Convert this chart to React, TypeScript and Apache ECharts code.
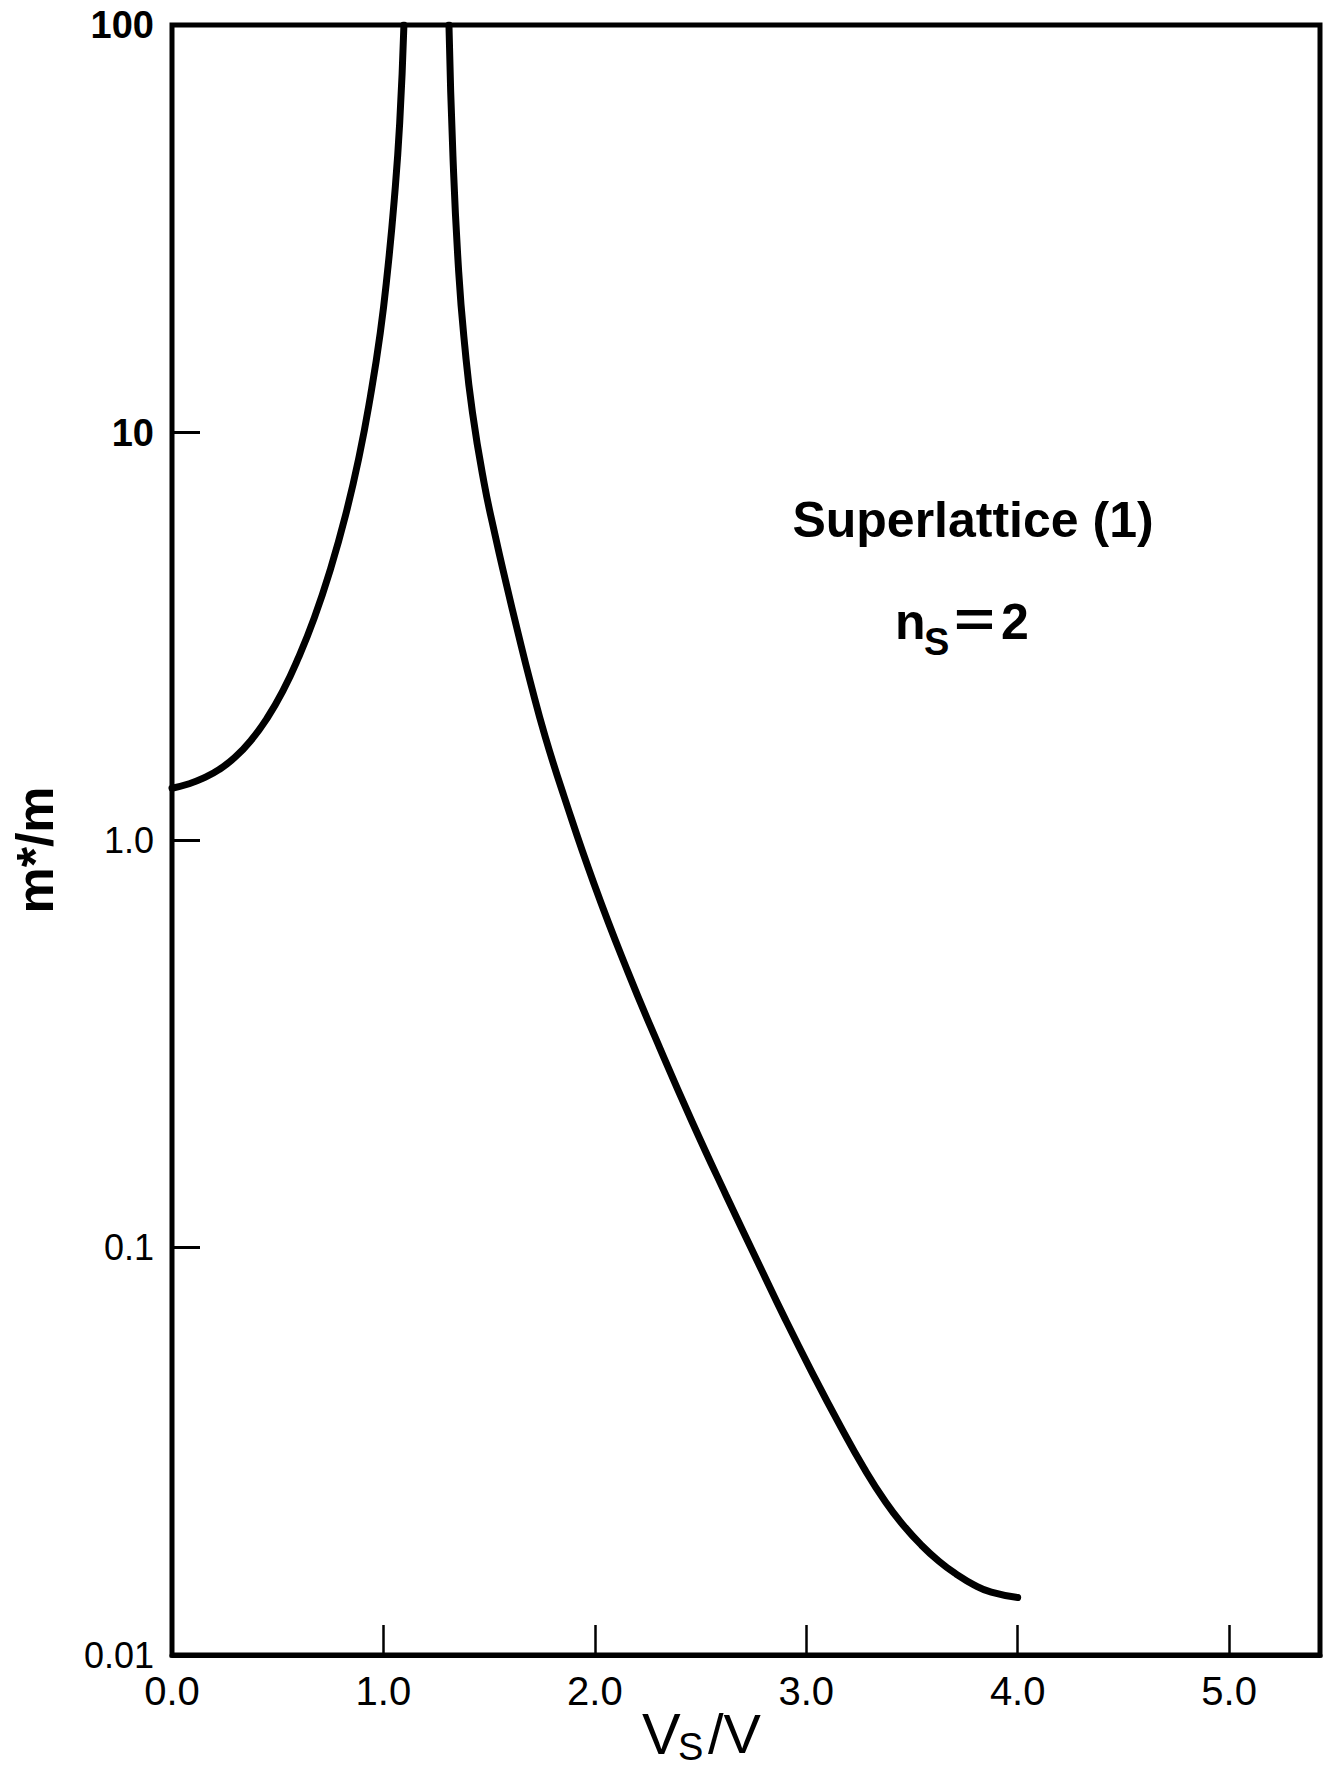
import React, { useEffect, useRef } from "react";
import * as echarts from "echarts";

// Left branch (rises from ~1.34 at V_S/V = 0 and diverges near V_S/V ≈ 1.1)
const leftX = [0.0, 0.073, 0.148, 0.224, 0.299, 0.374, 0.449, 0.524, 0.598, 0.673, 0.747, 0.821, 0.885, 0.939, 0.985, 1.02, 1.051, 1.077, 1.097];
const leftY = [1.34, 1.37, 1.418, 1.49, 1.598, 1.757, 1.987, 2.319, 2.802, 3.509, 4.575, 6.269, 8.726, 12.31, 17.54, 25.02, 37.09, 57.51, 100];

// Right branch (falls from 100 near V_S/V ≈ 1.31 down to ~0.014 at V_S/V = 4.0)
const rightX = [1.31, 1.329, 1.356, 1.385, 1.421, 1.475, 1.53, 1.581, 1.636, 1.695, 1.765, 1.853, 1.996, 2.154, 2.307, 2.461, 2.62, 2.774, 2.9, 3.027, 3.162, 3.272, 3.376, 3.46, 3.545, 3.627, 3.709, 3.793, 3.875, 4.0];
const rightY = [100, 47.5, 24.81, 16.27, 11.21, 7.58, 5.545, 4.256, 3.234, 2.441, 1.795, 1.286, 0.781, 0.478, 0.309, 0.203, 0.1346, 0.0914, 0.0668, 0.0494, 0.0364, 0.0288, 0.0237, 0.0208, 0.0186, 0.017, 0.0158, 0.01486, 0.01426, 0.01384];

const xTickValues = [0, 1, 2, 3, 4, 5];
const xTickText = ["0.0", "1.0", "2.0", "3.0", "4.0", "5.0"];
const yTickValues = [0.01, 0.1, 1, 10, 100];
const yTickText = ["0.01", "0.1", "1.0", "10", "100"];
const yBoldTicks = ["10", "100"];

const FONT = "'Liberation Sans', Arial, Helvetica, sans-serif";

export default function App() {
  const ref = useRef<HTMLDivElement>(null);
  useEffect(() => {
    if (!ref.current) return;
    const chart = echarts.init(ref.current, null, { renderer: "svg" });
    const leftData = leftX.map((x, i) => [x, leftY[i]]);
    const rightData = rightX.map((x, i) => [x, rightY[i]]);
    const xFmt = (v: number) => {
      const i = xTickValues.findIndex((t) => Math.abs(t - v) < 1e-6);
      return i >= 0 ? xTickText[i] : "";
    };
    const yFmt = (v: number) => {
      const i = yTickValues.findIndex((t) => Math.abs(Math.log10(t) - Math.log10(v)) < 1e-6);
      if (i < 0) return "";
      const t = yTickText[i];
      return yBoldTicks.includes(t) ? `{b|${t}}` : `{n|${t}}`;
    };
    const txt = (
      text: string,
      x: number,
      y: number,
      fontSize: number,
      fontWeight: string,
      extra: Record<string, unknown> = {}
    ) => ({
      type: "text",
      x,
      y,
      ...extra,
      style: {
        text,
        fontSize,
        fontWeight,
        fontFamily: FONT,
        fill: "#000",
        textAlign: "left",
        textVerticalAlign: "middle",
      },
    });
    chart.setOption({
      animation: false,
      backgroundColor: "#ffffff",
      grid: {
        left: 172,
        right: 11,
        top: 25,
        bottom: 117,
        show: true,
        borderColor: "#000",
        borderWidth: 5,
        backgroundColor: "transparent",
      },
      xAxis: {
        type: "value",
        min: 0,
        max: 5.43,
        interval: 1,
        position: "bottom",
        splitLine: { show: false },
        axisLine: { show: true, lineStyle: { color: "#000", width: 5 } },
        axisTick: { show: true, inside: true, length: 30, lineStyle: { color: "#000", width: 2.5 } },
        axisLabel: {
          formatter: xFmt,
          color: "#000",
          fontSize: 40,
          fontFamily: FONT,
          margin: 16,
          showMaxLabel: false,
        },
      },
      yAxis: {
        type: "log",
        logBase: 10,
        min: 0.01,
        max: 100,
        position: "left",
        splitLine: { show: false },
        minorTick: { show: false },
        axisLine: { show: true, lineStyle: { color: "#000", width: 4 } },
        axisTick: { show: true, inside: true, length: 28, lineStyle: { color: "#000", width: 3 } },
        axisLabel: {
          formatter: yFmt,
          margin: 18,
          rich: {
            b: { fontSize: 38, fontWeight: "bold", color: "#000", fontFamily: FONT },
            n: { fontSize: 36, color: "#000", fontFamily: FONT },
          },
        },
      },
      series: [
        {
          type: "line",
          data: leftData,
          showSymbol: false,
          smooth: 0.5,
          lineStyle: { color: "#000", width: 7, cap: "round" },
        },
        {
          type: "line",
          data: rightData,
          showSymbol: false,
          smooth: 0.5,
          lineStyle: { color: "#000", width: 7, cap: "round" },
        },
      ],
      graphic: [
        {
          type: "text",
          x: 973,
          y: 520,
          style: {
            text: "Superlattice (1)",
            fontSize: 50,
            fontWeight: "bold",
            fontFamily: FONT,
            fill: "#000",
            textAlign: "center",
            textVerticalAlign: "middle",
          },
        },
        txt("n", 895, 622, 50, "bold"),
        txt("S", 924, 642, 38, "bold"),
        txt("=", 954, 620, 50, "bold", { scaleX: 1.4, originX: 0, originY: 0 }),
        txt("2", 1001, 622, 50, "bold"),
        txt("V", 642, 1733, 58, "normal"),
        txt("S", 678, 1747, 38, "normal"),
        txt("/V", 708, 1733, 56, "normal"),
        {
          type: "text",
          x: 35,
          y: 850,
          rotation: Math.PI / 2,
          style: {
            text: "m*/m",
            fontSize: 52,
            fontWeight: "bold",
            fontFamily: FONT,
            fill: "#000",
            textAlign: "center",
            textVerticalAlign: "middle",
          },
        },
      ],
    });
    return () => chart.dispose();
  }, []);
  return (
    <div
      ref={ref}
      style={{ position: "absolute", left: 0, top: 0, width: 1331, height: 1772, background: "#fff" }}
    />
  );
}
